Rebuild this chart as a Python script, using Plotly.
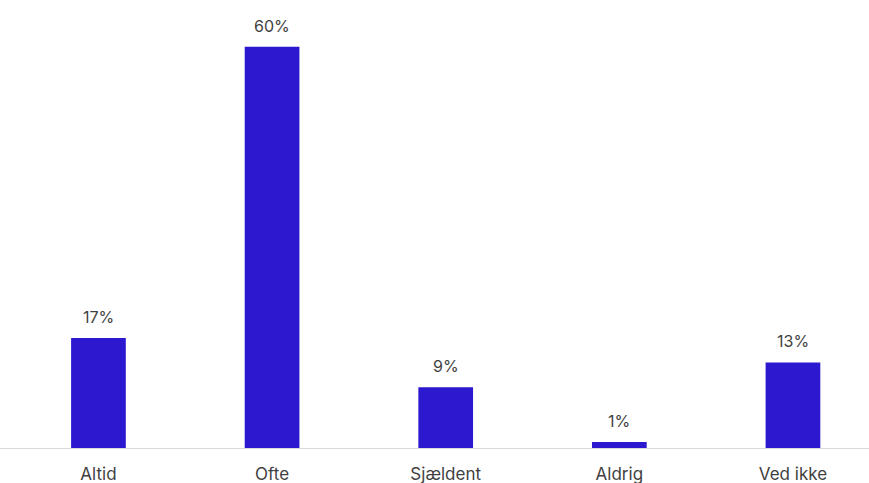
import plotly.graph_objects as go

categories = ["Altid", "Ofte", "Sjældent", "Aldrig", "Ved ikke"]
values = [16.45, 60, 9.1, 0.9, 12.8]
labels = ["17%", "60%", "9%", "1%", "13%"]

BAR_COLOR = "#2b18cf"
TEXT_COLOR = "#3f3f3f"
FONT = "Inter, Roboto, Arial, sans-serif"

fig = go.Figure()
fig.add_trace(go.Bar(
    x=categories,
    y=values,
    marker=dict(color=BAR_COLOR, line=dict(width=0)),
    width=0.315,
    hoverinfo="skip",
))

for c, v, t in zip(categories, values, labels):
    fig.add_annotation(
        x=c, y=v, text=t, showarrow=False,
        yanchor="bottom", yshift=9,
        font=dict(family=FONT, size=16, color=TEXT_COLOR),
    )

fig.update_layout(
    width=869, height=483,
    margin=dict(l=0, r=0, t=0, b=35),
    paper_bgcolor="white",
    plot_bgcolor="white",
    showlegend=False,
    font=dict(family=FONT, size=16, color=TEXT_COLOR),
    xaxis=dict(
        type="category",
        range=[-0.567, 4.438],
        showline=True, linecolor="#d9d9d9", linewidth=1,
        showgrid=False, ticks="", zeroline=False,
        automargin=False,
        ticklabelstandoff=11,
        tickfont=dict(family=FONT, size=17, color=TEXT_COLOR),
    ),
    yaxis=dict(
        range=[0, 67],
        visible=False,
        showgrid=False, zeroline=False,
    ),
)

fig.write_html("out.html")
